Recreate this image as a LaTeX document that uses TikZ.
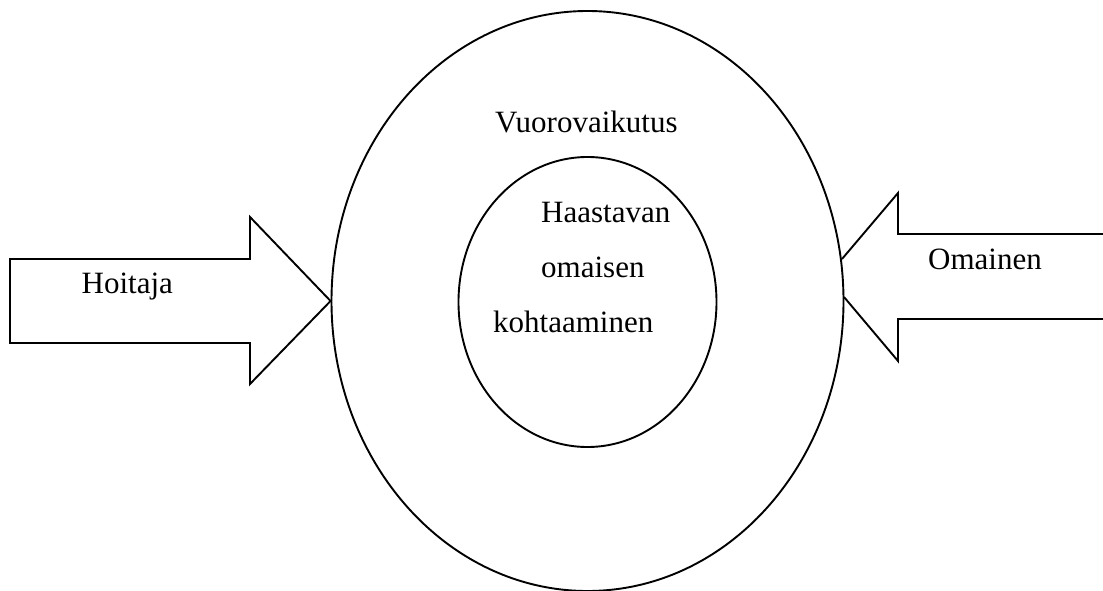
\documentclass[tikz,border=0pt]{standalone}
\usepackage{fontspec}
\setmainfont{Liberation Serif}
\usetikzlibrary{shapes.geometric}
\begin{document}
\begin{tikzpicture}[x=1pt,y=-1pt,
  ring/.style={draw, ellipse, inner sep=0pt, line width=1.9pt},
  lbl/.style={anchor=base west, inner sep=0pt, font=\fontsize{31}{37}\selectfont},
  arrowshape/.style={draw, line width=1.9pt, line join=miter}]
\useasboundingbox (0,0) rectangle (1103,591);
\node[ring, minimum width=512pt, minimum height=580pt] (outer) at (587.5,301) {};
\node[ring, minimum width=258pt, minimum height=290pt] (inner) at (587.5,302) {};
% left arrow
\coordinate (ltip) at (outer.west);
\draw[arrowshape] (10,259) -- (250,259) -- (250,217) -- (ltip) -- (250,384) -- (250,343) -- (10,343) -- cycle;
% right arrow
\coordinate (rtop) at (842,259);
\coordinate (rbot) at (844,297);
\draw[arrowshape] (1104,234) -- (898,234) -- (898,193) -- (rtop);
\draw[arrowshape] (rbot) -- (898,361) -- (898,319) -- (1104,319);
% texts
\node[lbl] (vuoro) at (495,133) {Vuorovaikutus};
\node[lbl] (l1) at (541,222) {Haastavan};
\node[lbl] (l2) at (541,277.5) {omaisen};
\node[lbl] (l3) at (493,332.5) {kohtaaminen};
\node[lbl] (hoit) at (81.5,293) {Hoitaja};
\node[lbl] (omai) at (928,269) {Omainen};
\end{tikzpicture}
\end{document}
